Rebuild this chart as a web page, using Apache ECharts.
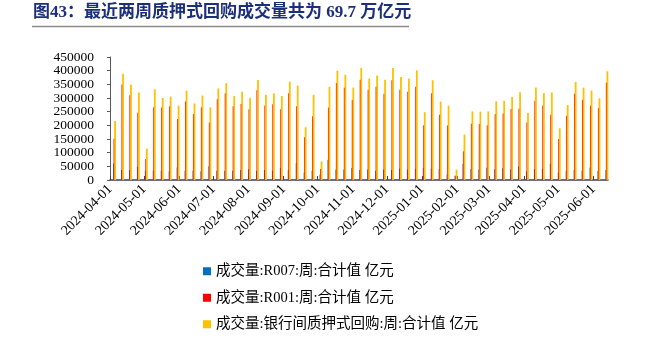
<!DOCTYPE html>
<html><head><meta charset="utf-8">
<script src="https://cdn.jsdelivr.net/npm/echarts@6/dist/echarts.min.js"></script>
<style>html,body{margin:0;padding:0;background:#fff}#c{width:653px;height:345px}</style>
</head><body><div id="c"></div>
<script>
const weeks = [
 '2024-04-05','2024-04-12','2024-04-19','2024-04-26','2024-05-03','2024-05-10','2024-05-17','2024-05-24','2024-05-31',
 '2024-06-07','2024-06-14','2024-06-21','2024-06-28','2024-07-05','2024-07-12','2024-07-19','2024-07-26',
 '2024-08-02','2024-08-09','2024-08-16','2024-08-23','2024-08-30','2024-09-06','2024-09-13','2024-09-20','2024-09-27',
 '2024-10-04','2024-10-11','2024-10-18','2024-10-25','2024-11-01','2024-11-08','2024-11-15','2024-11-22','2024-11-29',
 '2024-12-06','2024-12-13','2024-12-20','2024-12-27','2025-01-03','2025-01-10','2025-01-17','2025-01-24','2025-01-31',
 '2025-02-07','2025-02-14','2025-02-21','2025-02-28','2025-03-07','2025-03-14','2025-03-21','2025-03-28',
 '2025-04-04','2025-04-11','2025-04-18','2025-04-25','2025-05-02','2025-05-09','2025-05-16','2025-05-23','2025-05-30',
 '2025-06-06','2025-06-13'
];
const r007 = [
 60000,37000,37000,48000,34000,35000,34000,32000,46000,34000,34000,32000,50000,34000,34000,34000,
 37000,39000,34000,37000,34000,44000,37000,62000,27000,34000,20000,74000,38000,38000,44000,37000,
 38000,34000,38000,37000,41000,38000,41000,44000,41000,40000,20000,16000,59000,40000,38000,45000,39000,
 43000,38000,49000,32000,40000,41000,59000,27000,34000,37000,34000,46000,33000,37000
];
const r001 = [
 151000,349000,310000,246000,77000,266000,265000,270000,223000,287000,241000,266000,210000,296000,317000,270000,
 278000,259000,328000,273000,277000,259000,317000,270000,156000,233000,40000,265000,355000,338000,293000,367000,
 330000,341000,316000,365000,330000,323000,341000,200000,317000,239000,199000,16000,105000,206000,205000,200000,241000,
 243000,260000,261000,210000,290000,273000,239000,150000,235000,316000,294000,272000,263000,356000
];
const total = [
 216000,389000,349000,320000,115000,332000,300000,305000,272000,327000,280000,309000,266000,335000,354000,307000,
 323000,301000,366000,312000,317000,307000,360000,345000,193000,312000,68000,341000,400000,385000,338000,410000,
 371000,382000,367000,410000,377000,371000,401000,248000,365000,287000,272000,38000,166000,251000,250000,251000,288000,
 290000,304000,321000,245000,338000,318000,320000,189000,274000,359000,338000,327000,299000,398000
];
const monthTicks = ['2024-04-01','2024-05-01','2024-06-01','2024-07-01','2024-08-01','2024-09-01','2024-10-01',
 '2024-11-01','2024-12-01','2025-01-01','2025-02-01','2025-03-01','2025-04-01','2025-05-01','2025-06-01'];
const seriesNames = ['成交量:R007:周:合计值 亿元','成交量:R001:周:合计值 亿元','成交量:银行间质押式回购:周:合计值 亿元'];
const seriesColors = ['#0070C0','#FF0000','#FFC000'];
const seriesWidths = [1, 1.4, 1.8];

function ts(s){const p=s.split('-');return new Date(+p[0],+p[1]-1,+p[2]).getTime();}
function fmt(v){const d=new Date(v);const p=n=>(n<10?'0':'')+n;return d.getFullYear()+'-'+p(d.getMonth()+1)+'-'+p(d.getDate());}
const tickVals = monthTicks.map(ts);
const FONT = "'Liberation Serif','Noto Sans CJK SC',serif";

const chart = echarts.init(document.getElementById('c'), null, {renderer:'canvas'});
const vals = [r007, r001, total];
chart.setOption({
  animation:false,
  title:{text:'图43：最近两周质押式回购成交量共为 69.7 万亿元', left:33, top:4, padding:0,
    textStyle:{fontSize:17, fontWeight:'bold', color:'#1b2f7a', fontFamily:FONT}},
  graphic:[{type:'line', shape:{x1:32,y1:26.5,x2:409,y2:26.5}, style:{stroke:'#8c8c8c', lineWidth:1.5}}],
  legend:{orient:'vertical', left:203, top:264, padding:0, itemWidth:8, itemHeight:8, itemGap:12, icon:'rect',
    textStyle:{fontSize:14.5, fontFamily:FONT, color:'#000'}, data:seriesNames},
  grid:{left:110, right:45, top:57, bottom:165, containLabel:false},
  xAxis:{type:'value', min:ts('2024-04-01'), max:ts('2025-06-14'),
    axisLine:{lineStyle:{color:'#404040', width:1.5}},
    axisTick:{show:true, inside:true, length:4, customValues:tickVals, lineStyle:{color:'#404040'}},
    axisLabel:{customValues:tickVals, rotate:45, margin:7, formatter:v=>fmt(v), fontFamily:FONT, fontSize:14, color:'#000'},
    splitLine:{show:false}},
  yAxis:{type:'value', min:0, max:450000, interval:50000,
    axisLine:{show:true, lineStyle:{color:'#595959'}},
    axisTick:{show:true, length:3, lineStyle:{color:'#595959'}},
    axisLabel:{margin:16, fontFamily:FONT, fontSize:13.5, lineHeight:12, color:'#000',
      formatter:v=>String(v)},
    splitLine:{show:false}},
  series: seriesNames.map((n,k)=>({
    name:n, type:'bar', barWidth:seriesWidths[k], barGap:'-55%', itemStyle:{color:seriesColors[k]},
    data: weeks.map((d,i)=>[ts(d), vals[k][i]])
  }))
});
</script></body></html>
